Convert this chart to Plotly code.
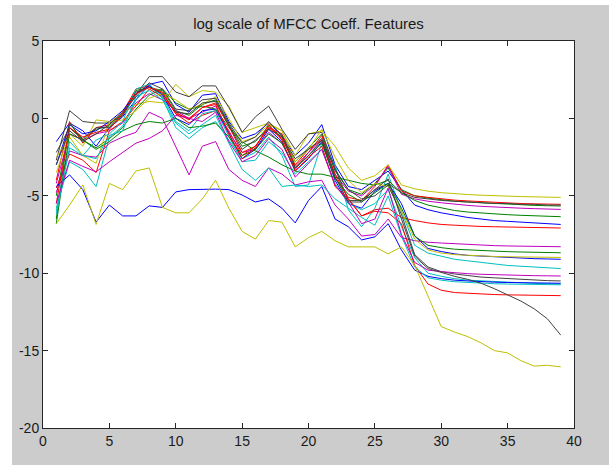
import plotly.graph_objects as go

x_vals = list(range(1, 40))

# MATLAB default colour cycle: b g r c m y k
b1 = [-1.5, -0.3, -0.8, -1.8, -0.6, 0.1, 1.2, 2.2, 2.4, 0.9, 0.4, 1.5, 1.6, -0.2, -1.3, -1.0, -0.3, -1.1, -2.4, -1.6, -0.4, -3.0, -4.4, -4.6, -4.0, -3.4, -4.6, -5.6, -5.9, -6.1, -6.25, -6.4, -6.5, -6.6, -6.65, -6.7, -6.75, -6.8, -6.85]
g1 = [-5.0, -0.6, -1.4, -0.7, -0.5, 0.3, 1.8, 2.0, 1.8, 0.5, 0.2, 0.9, 1.2, -0.4, -1.8, -1.5, -0.5, -1.2, -2.8, -1.9, -1.0, -3.4, -4.6, -4.9, -4.2, -3.2, -4.6, -5.0, -5.15, -5.25, -5.35, -5.4, -5.45, -5.5, -5.55, -5.6, -5.62, -5.64, -5.66]
r1 = [-4.0, -0.2, -1.6, -0.6, -0.4, 0.4, 1.9, 2.1, 1.6, 0.3, -0.3, 0.2, 0.5, -0.8, -2.4, -1.8, -0.6, -1.0, -3.1, -2.2, -1.1, -3.8, -5.1, -5.3, -4.4, -3.0, -4.7, -5.0, -5.1, -5.2, -5.28, -5.33, -5.38, -5.42, -5.46, -5.5, -5.52, -5.54, -5.55]
c1 = [-5.8, -2.8, -3.3, -4.4, -1.2, -0.5, 1.2, 2.1, 1.3, -0.6, -1.3, -0.6, -0.2, -1.4, -2.6, -2.2, -1.2, -2.4, -4.4, -4.3, -1.6, -3.0, -5.9, -7.0, -5.8, -3.6, -6.0, -8.2, -8.7, -8.9, -9.1, -9.2, -9.3, -9.4, -9.5, -9.55, -9.6, -9.65, -9.7]
m1 = [-4.2, -1.0, -1.4, -1.0, -0.8, -0.3, 1.0, 1.6, 1.2, 0.5, 0.0, 0.4, 0.8, -0.9, -2.2, -2.0, -0.9, -1.6, -3.3, -2.2, -1.4, -3.6, -4.7, -5.0, -4.3, -3.1, -4.9, -5.2, -5.35, -5.45, -5.55, -5.62, -5.68, -5.73, -5.77, -5.8, -5.83, -5.86, -5.88]
y1 = [-3.5, -1.0, -1.8, -0.1, -0.2, 0.3, 0.9, 1.1, 1.0, 2.2, 1.4, 1.8, 1.7, 0.8, -0.9, -0.6, -0.3, -0.8, -2.4, -1.0, -0.8, -1.8, -3.2, -4.0, -3.7, -3.0, -4.3, -4.55, -4.7, -4.8, -4.87, -4.92, -4.96, -5.0, -5.03, -5.05, -5.07, -5.09, -5.1]
k1 = [-2.7, 0.5, -0.2, -0.3, -0.3, 0.2, 1.5, 2.7, 2.7, 1.7, 1.4, 2.1, 2.1, 0.7, -0.9, 0.1, 0.8, -0.7, -2.0, -1.0, -0.9, -3.2, -5.3, -5.3, -4.6, -4.2, -4.8, -5.1, -5.2, -5.3, -5.35, -5.4, -5.45, -5.5, -5.5, -5.55, -5.55, -5.6, -5.6]

b2 = [-3.0, -0.4, -1.0, -0.8, -0.2, 0.5, 1.6, 2.1, 1.5, 0.0, -0.4, 0.5, 0.6, -1.0, -2.6, -2.0, -0.7, -1.5, -3.4, -2.6, -1.5, -4.0, -5.5, -5.8, -4.7, -4.2, -5.5, -7.6, -8.4, -8.6, -8.75, -8.85, -8.9, -8.95, -9.0, -9.03, -9.06, -9.08, -9.1]
g2 = [-6.5, -0.3, -1.4, -1.9, -1.3, -0.6, 0.6, 1.5, 1.9, 1.0, 0.6, 0.8, 0.6, -0.6, -1.5, -2.1, -2.5, -3.0, -3.4, -3.6, -3.6, -3.8, -4.0, -4.2, -4.3, -4.0, -4.8, -5.3, -5.6, -5.8, -5.95, -6.05, -6.12, -6.18, -6.22, -6.26, -6.3, -6.33, -6.35]
r2 = [-4.5, -2.3, -2.7, -3.5, -0.8, -0.2, 0.8, 1.9, 1.4, 0.4, -0.1, 0.7, 1.0, -0.5, -2.2, -1.8, -0.6, -1.3, -3.0, -2.0, -1.4, -3.6, -5.2, -6.3, -5.9, -5.8, -6.4, -6.6, -6.75, -6.85, -6.9, -6.95, -6.98, -7.0, -7.02, -7.04, -7.06, -7.07, -7.08]
c2 = [-6.0, -1.5, -2.4, -1.4, -1.0, -0.2, 1.9, 2.2, 1.4, -0.2, -0.8, 0.3, 0.5, -1.2, -2.8, -2.7, -1.5, -2.2, -3.6, -2.8, -2.0, -4.2, -5.5, -5.9, -5.5, -4.6, -7.0, -9.0, -10.0, -10.2, -10.35, -10.45, -10.5, -10.55, -10.6, -10.63, -10.66, -10.68, -10.7]
m2 = [-4.8, -2.1, -2.4, -2.5, -1.6, -1.2, -0.9, 0.4, 0.0, -1.8, -3.65, -1.8, -1.5, -3.3, -4.0, -4.4, -3.2, -3.6, -4.3, -4.1, -4.0, -5.6, -6.5, -7.6, -7.5, -6.5, -7.7, -7.9, -8.0, -8.05, -8.1, -8.15, -8.2, -8.22, -8.24, -8.26, -8.27, -8.28, -8.29]
y2 = [-2.5, -1.2, -2.4, -2.9, -0.2, -0.1, 0.5, 1.3, 1.6, 1.2, 0.6, 0.9, 1.4, 0.0, -1.5, -1.2, -0.4, -0.8, -2.8, -2.0, -0.7, -2.5, -4.0, -4.8, -4.2, -4.4, -6.0, -7.8, -8.5, -8.7, -8.8, -8.85, -8.9, -8.92, -8.94, -8.95, -8.96, -8.97, -8.98]
k2 = [-2.2, -0.6, -1.3, -0.6, -0.6, 0.2, 1.7, 2.0, 1.6, 0.4, 0.3, 1.0, 1.1, -0.5, -2.0, -1.4, -0.7, -1.2, -2.6, -2.0, -1.3, -3.3, -4.6, -5.2, -5.0, -4.3, -6.2, -8.8, -9.6, -9.9, -10.05, -10.15, -10.25, -10.3, -10.35, -10.4, -10.45, -10.48, -10.5]

b3 = [-4.4, -3.65, -4.6, -6.7, -5.6, -6.3, -6.3, -5.65, -5.75, -4.75, -4.6, -4.57, -4.57, -4.6, -4.95, -5.4, -5.2, -5.8, -6.75, -5.3, -4.4, -6.5, -7.0, -7.85, -7.65, -6.8, -8.5, -9.8, -10.2, -10.35, -10.45, -10.5, -10.55, -10.58, -10.6, -10.62, -10.63, -10.64, -10.65]
g3 = [-6.8, -1.0, -1.4, -2.0, -1.5, -0.8, -0.4, -0.2, -0.3, 0.0, -0.6, -0.5, -0.3, -1.2, -2.4, -2.0, -1.0, -1.6, -3.2, -2.4, -1.6, -3.9, -4.9, -5.4, -4.8, -4.2, -5.8, -7.6, -8.2, -8.35, -8.45, -8.5, -8.55, -8.58, -8.61, -8.63, -8.65, -8.67, -8.68]
r3 = [-5.5, -0.6, -1.2, -0.9, -0.7, 0.3, 1.6, 2.0, 1.7, 0.3, 0.0, 0.7, 0.9, -1.0, -2.6, -1.9, -0.4, -1.4, -3.4, -2.5, -1.8, -4.4, -5.2, -6.3, -6.0, -6.1, -6.8, -9.5, -10.7, -11.1, -11.25, -11.3, -11.35, -11.38, -11.4, -11.42, -11.44, -11.45, -11.45]
c3 = [-6.2, -1.9, -2.4, -2.6, -1.1, -0.8, 1.4, 1.8, 1.2, -0.3, -1.0, -0.4, 0.2, -1.6, -3.3, -4.0, -3.2, -4.4, -4.3, -4.4, -4.3, -5.2, -5.8, -6.4, -6.9, -5.0, -7.6, -9.6, -10.3, -10.45, -10.55, -10.6, -10.65, -10.68, -10.7, -10.72, -10.73, -10.74, -10.75]
m3 = [-5.5, -2.7, -3.1, -3.45, -2.8, -2.2, -1.6, -1.3, -0.8, 0.2, 0.0, -0.2, 0.4, -1.5, -2.8, -2.4, -1.3, -2.0, -3.8, -2.9, -2.0, -4.3, -5.4, -6.8, -6.5, -4.5, -7.5, -9.3, -9.8, -9.9, -9.98, -10.03, -10.07, -10.1, -10.12, -10.14, -10.16, -10.17, -10.18]
y3 = [-6.8, -5.6, -4.3, -6.85, -4.2, -4.6, -3.4, -3.2, -5.75, -6.1, -6.1, -5.2, -4.0, -5.8, -7.3, -7.8, -6.6, -6.7, -8.3, -7.7, -7.3, -7.9, -8.3, -8.3, -8.3, -8.75, -8.3, -9.5, -11.5, -13.45, -13.8, -14.1, -14.5, -15.0, -15.15, -15.65, -16.0, -15.95, -16.05]
k3 = [-3.0, -0.8, -1.5, -1.0, -0.4, 0.4, 1.4, 2.3, 1.9, 0.6, 0.5, 1.2, 1.3, -0.3, -1.6, -1.2, -0.2, -1.1, -3.2, -2.4, -1.4, -3.8, -5.4, -5.4, -4.6, -3.9, -6.5, -8.9, -9.7, -9.95, -10.2, -10.4, -10.65, -11.0, -11.4, -11.8, -12.3, -12.95, -14.0]

series = [b1, g1, r1, c1, m1, y1, k1,
          b2, g2, r2, c2, m2, y2, k2,
          b3, g3, r3, c3, m3, y3, k3]
colors = ["#0000ff", "#008000", "#ff0000", "#00bfbf", "#bf00bf", "#bfbf00", "#404040"]

title_text = "log scale of MFCC Coeff. Features"
x_ticks = [0, 5, 10, 15, 20, 25, 30, 35, 40]
y_ticks = [-20, -15, -10, -5, 0, 5]

fig = go.Figure()
for i, s in enumerate(series):
    fig.add_trace(go.Scatter(x=x_vals, y=s, mode="lines",
                             line=dict(color=colors[i % 7], width=1),
                             showlegend=False, hoverinfo="skip"))

W, H = 609, 465
L, R, T, B = 43, 35, 41, 37
pw, ph = W - L - R, H - T - B

def px2x(p):
    return (p - L) / pw

def py2y(p):
    return (H - B - p) / ph

shapes = [
    dict(type="rect", xref="paper", yref="paper", x0=px2x(0), x1=px2x(12), y0=py2y(H), y1=py2y(0),
         fillcolor="white", line=dict(width=0), layer="below"),
    dict(type="rect", xref="paper", yref="paper", x0=px2x(0), x1=px2x(W), y0=py2y(5), y1=py2y(0),
         fillcolor="white", line=dict(width=0), layer="below"),
]

axis_common = dict(showgrid=False, zeroline=False, showline=True, linecolor="#262626", linewidth=1,
                   mirror="ticks", ticks="inside", ticklen=5, tickcolor="#262626", tickwidth=1,
                   tickfont=dict(family="Liberation Sans, Arial, sans-serif", size=14, color="#1a1a1a"))

fig.update_layout(
    width=W, height=H,
    margin=dict(l=L, r=R, t=T, b=B),
    paper_bgcolor="#cccccc", plot_bgcolor="white",
    title=dict(text=title_text, x=0.5, xref="paper", xanchor="center",
               y=1 - 24 / H, yref="container", yanchor="middle",
               font=dict(family="Liberation Sans, Arial, sans-serif", size=15, color="#1a1a1a")),
    xaxis=dict(range=[0, 40], tickvals=x_ticks, ticktext=[str(v) for v in x_ticks], **axis_common),
    yaxis=dict(range=[-20, 5], tickvals=y_ticks, ticktext=[str(v) for v in y_ticks], **axis_common),
    shapes=shapes,
)

fig.write_html("out.html")
